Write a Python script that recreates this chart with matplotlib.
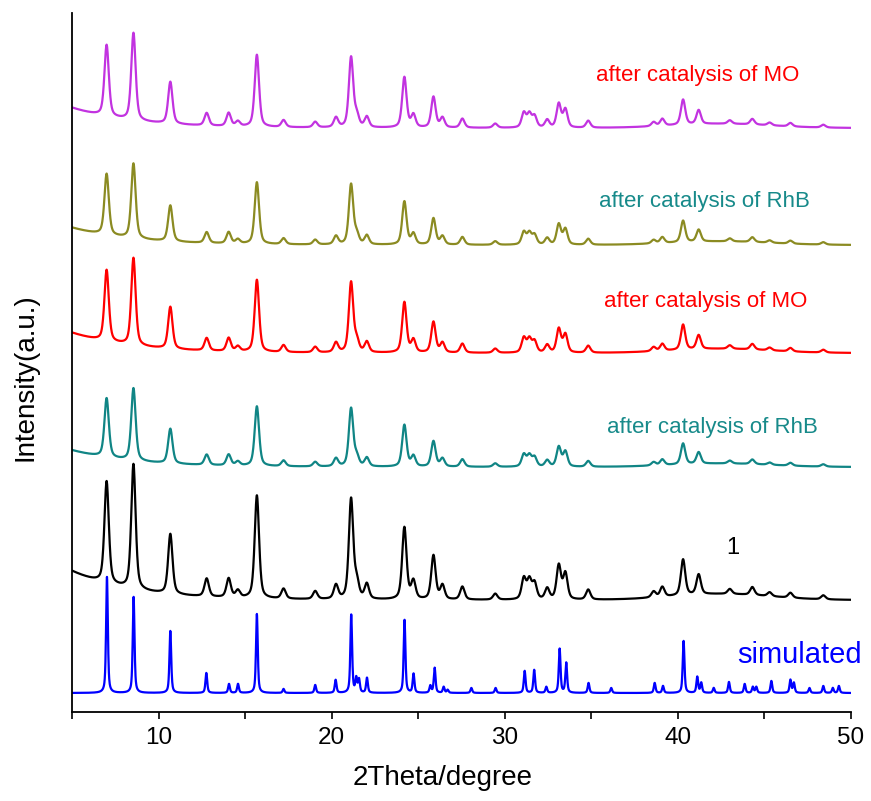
import numpy as np
import matplotlib.pyplot as plt
from matplotlib.ticker import MultipleLocator

plt.rcParams['font.family'] = ['Liberation Sans', 'DejaVu Sans']

exp_pos = [7.0, 8.55, 10.68, 12.78, 14.05, 14.58, 15.68, 17.22, 19.05, 20.25,
           21.12, 21.45, 22.03, 24.2, 24.72, 25.88, 26.4, 27.55, 29.45,
           31.1, 31.42, 31.72, 32.45, 33.12, 33.5, 34.82, 38.6, 39.1,
           40.3, 41.2, 43.0, 44.3, 45.3, 46.5, 48.4]
exp_height = [102, 125, 60, 18, 19, 7, 103, 10, 8, 14,
              100, 16, 15, 72, 18, 44, 14, 13, 6,
              21, 19, 16, 11, 34, 26, 10, 6, 10,
              36, 20, 5, 8, 4, 5, 4]
exp_bg_low = 29       # extra intensity at 5 deg
exp_bg_decay = 3.5    # deg
exp_hump = 6          # broad amorphous hump around 42.5 deg

# simulated pattern of 1
sim_pos = [7.02, 8.56, 10.68, 12.76, 14.07, 14.59, 15.68, 17.22, 19.05, 20.23,
           21.13, 21.42, 21.58, 22.04, 24.21, 24.73, 25.7, 25.95, 26.47, 26.7,
           28.07, 29.47, 31.15, 31.7, 32.4, 33.17, 33.55, 34.84, 36.15, 38.66,
           39.14, 40.33, 41.12, 41.35, 42.07, 42.95, 43.86, 44.33, 44.53, 45.4,
           46.5, 46.7, 47.6, 48.4, 48.95, 49.3]
sim_height = [116, 96, 62, 20, 9, 9, 79, 4, 8, 13,
              78, 14, 13, 15, 73, 19, 7, 25, 6, 3,
              5, 5, 22, 23, 6, 44, 30, 10, 5, 10,
              7, 52, 16, 10, 5, 11, 9, 6, 6, 12,
              13, 10, 5, 7, 5, 7]

# traces from bottom to top
labels = ['simulated', '1', 'after catalysis of RhB', 'after catalysis of MO',
          'after catalysis of RhB', 'after catalysis of MO']
scales = [1.0, 1.0, 0.58, 0.70, 0.60, 0.70]

colors = ['#0000ff', '#000000', '#108585', '#ff0000', '#8b8b22', '#c233e0']
text_colors = ['#0000ff', '#000000', '#178a8a', '#ff0000', '#178a8a', '#ff0000']
offsets = [19, 112, 245, 359, 467, 584]
text_xy = [(47.0, 57), (43.16, 164), (41.98, 285), (41.6, 410), (41.55, 510), (41.15, 636)]
text_size = [21, 17, 16, 16, 16, 16]


def peaks(x, pos, height, hw, eta):
    # pseudo-Voigt profile, hw = half width at half maximum
    y = np.zeros_like(x)
    for p, h in zip(pos, height):
        d = x - p
        lor = hw**2 / (d**2 + hw**2)
        gau = np.exp(-np.log(2) * (d / hw)**2)
        y += h * (eta * lor + (1 - eta) * gau)
    return y


x = np.linspace(5, 50, 4501)

fig = plt.figure(figsize=(8.71, 8.01), dpi=100)
ax = fig.add_axes([72 / 871, 89 / 801, 779 / 871, 699 / 801])

for i in range(len(labels)):
    if i == 0:
        y = offsets[i] + peaks(x, sim_pos, sim_height, 0.06, 0.6)
    else:
        bg = exp_bg_low * np.exp(-(x - 5) / exp_bg_decay) \
            + exp_hump * np.exp(-((x - 42.5) / 4.0)**2)
        y = offsets[i] + scales[i] * (bg + peaks(x, exp_pos, exp_height, 0.15, 0.5))
    ax.plot(x, y, color=colors[i], lw=1.6)
    tx, ty = text_xy[i]
    ax.text(tx, ty, labels[i], color=text_colors[i], fontsize=text_size[i],
            ha='center', va='center')

ax.set_xlim(5, 50)
ax.set_ylim(0, 699)
ax.set_yticks([])
ax.xaxis.set_major_locator(MultipleLocator(10))
ax.xaxis.set_minor_locator(MultipleLocator(5))
ax.tick_params(axis='x', which='both', direction='out', length=5, width=1.2,
               labelsize=17.5, pad=6)
for side in ['top', 'right']:
    ax.spines[side].set_visible(False)
for side in ['left', 'bottom']:
    ax.spines[side].set_linewidth(1.3)

ax.set_xlabel('2Theta/degree', fontsize=20, va='center')
ax.xaxis.set_label_coords(0.4756, -0.094)
ax.set_ylabel('Intensity(a.u.)', fontsize=20, va='center')
ax.yaxis.set_label_coords(-0.06, 0.479)

fig.savefig('out.png', dpi=100)
